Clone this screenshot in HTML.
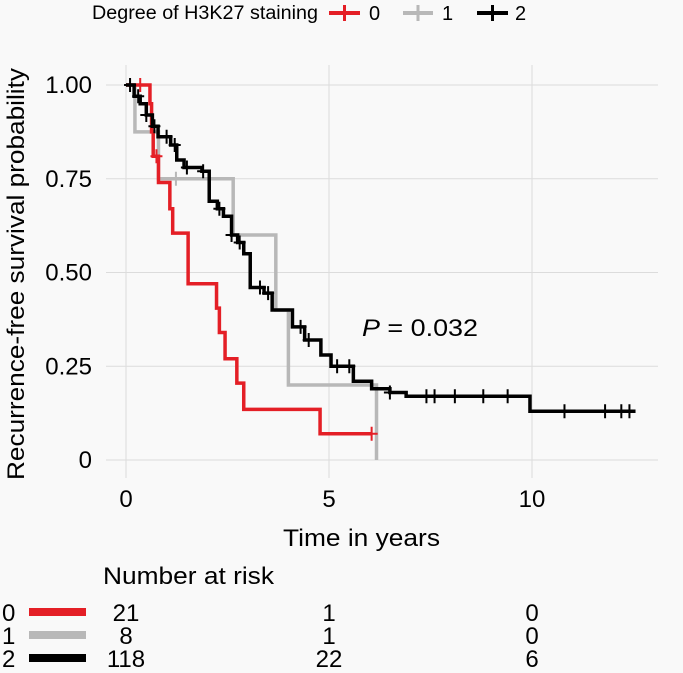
<!DOCTYPE html>
<html><head><meta charset="utf-8"><style>
body{margin:0;background:#f9f9f9;}
svg{display:block;font-family:"Liberation Sans",sans-serif;}
</style></head><body>
<svg id="c" width="683" height="673" viewBox="0 0 683 673">
<rect width="683" height="673" fill="#f9f9f9"/>
<g id="grid"></g>
<g id="curves"></g>
<g id="axes"></g>
<g>
<text x="92" y="19" font-size="19" textLength="226" lengthAdjust="spacingAndGlyphs">Degree of H3K27 staining</text>
<g><line x1="329" y1="13" x2="360" y2="13" stroke="#e41f26" stroke-width="4"/><line x1="344.5" y1="5" x2="344.5" y2="21" stroke="#e41f26" stroke-width="3"/><text x="369" y="20" font-size="20">0</text></g>
<g><line x1="403" y1="13" x2="433" y2="13" stroke="#b8b8b8" stroke-width="4"/><line x1="418" y1="5" x2="418" y2="21" stroke="#b8b8b8" stroke-width="3"/><text x="442" y="20" font-size="20">1</text></g>
<g><line x1="477" y1="13" x2="508" y2="13" stroke="#000" stroke-width="4"/><line x1="492.5" y1="5" x2="492.5" y2="21" stroke="#000" stroke-width="3"/><text x="515" y="20" font-size="20">2</text></g>
</g>
<text x="362" y="336" font-size="24" textLength="116" lengthAdjust="spacingAndGlyphs"><tspan font-style="italic">P</tspan> = 0.032</text>
<text x="283" y="546" font-size="24" textLength="157" lengthAdjust="spacingAndGlyphs">Time in years</text>
<text transform="translate(24,480) rotate(-90)" font-size="24" textLength="412" lengthAdjust="spacingAndGlyphs">Recurrence-free survival probability</text>
<text x="103" y="584" font-size="24" textLength="171" lengthAdjust="spacingAndGlyphs">Number at risk</text>
<g id="risk"></g>
</svg>
<script>
const xTicks=[0,5,10];
const yTicks=[0,0.25,0.5,0.75,1];
const yTickLabels=["0","0.25","0.50","0.75","1.00"];
const t0=[0,0.59,0.63,0.67,0.8,1.08,1.15,1.53,2.23,2.3,2.44,2.73,2.9,4.78,6.05];
const s0=[1,0.95,0.875,0.81,0.74,0.67,0.605,0.47,0.405,0.34,0.27,0.205,0.135,0.07,0.07];
const c0=[0.35,0.75,6.05];
const t1=[0,0.22,0.8,2.64,3.69,4.0,6.17,6.17];
const s1=[1,0.875,0.75,0.6,0.4,0.2,0.2,0];
const c1=[1.23];
const t2=[0,0.2,0.35,0.5,0.65,0.79,1.1,1.25,1.43,1.87,2.05,2.25,2.4,2.6,2.75,2.9,3.06,3.4,3.6,3.98,4.1,4.4,4.8,5.05,5.6,6.05,6.5,6.9,9.95,12.55];
const s2=[1,0.97,0.95,0.92,0.89,0.862,0.84,0.8,0.78,0.77,0.69,0.67,0.65,0.6,0.58,0.55,0.46,0.445,0.4,0.4,0.355,0.32,0.28,0.25,0.21,0.19,0.18,0.17,0.13,0.13];
const c2=[0.1,0.3,0.5,0.7,1.0,1.2,1.5,1.9,2.3,2.6,2.8,3.3,3.5,4.3,4.5,5.2,5.5,6.5,7.4,7.6,8.1,8.8,9.4,10.8,11.8,12.2,12.4];
const riskTimes=[0,5,10];
const risk0=[21,1,0], risk1=[8,1,0], risk2=[118,22,6];
const X=t=>126+t*40.6, Y=s=>460-s*375;
const NS="http://www.w3.org/2000/svg";
function mk(tag,attrs,parent){const e=document.createElementNS(NS,tag);for(const k in attrs)e.setAttribute(k,attrs[k]);parent.appendChild(e);return e;}
const grid=document.getElementById('grid'),axes=document.getElementById('axes'),curves=document.getElementById('curves'),risk=document.getElementById('risk');
xTicks.forEach(t=>{const l=mk('line',{x1:X(t),x2:X(t),y1:65,y2:478,stroke:'#dcdcdc','stroke-width':1},grid);


const tx=mk('text',{x:X(t),y:507,'font-size':24,'text-anchor':'middle'},axes);tx.textContent=t;

});
yTicks.forEach((v,i)=>{const l=mk('line',{x1:106,x2:658,y1:Y(v),y2:Y(v),stroke:'#dcdcdc','stroke-width':1},grid);


const tx=mk('text',{x:92,y:Y(v)+8,'font-size':24,'text-anchor':'end'},axes);tx.textContent=yTickLabels[i];

});
function stepAt(ts,ss,t){let v=ss[0];for(let i=0;i<ts.length;i++){if(ts[i]<=t)v=ss[i];}return v;}
function curve(ts,ss,cs,col,name){let d='M'+X(ts[0])+','+Y(ss[0]);for(let i=1;i<ts.length;i++){d+=' H'+X(ts[i])+' V'+Y(ss[i]);}
const p=mk('path',{d:d,fill:'none',stroke:col,'stroke-width':3.5},curves);


cs.forEach(t=>{const y=Y(stepAt(ts,ss,t));const m=mk('path',{d:'M'+(X(t)-6)+','+y+' H'+(X(t)+6)+' M'+X(t)+','+(y-7)+' V'+(y+7),stroke:col,'stroke-width':2},curves);

});}
curve(t1,s1,c1,'#b8b8b8','curve-group-1');
curve(t0,s0,c0,'#e41f26','curve-group-0');
curve(t2,s2,c2,'#000000','curve-group-2');
const rows=[[risk0,'#e41f26','0'],[risk1,'#b8b8b8','1'],[risk2,'#000','2']];
rows.forEach((r,i)=>{const y=621+i*23;
const lb=mk('text',{x:2,y:y,'font-size':24},risk);lb.textContent=r[2];


const ln=mk('line',{x1:29,x2:86,y1:y-9,y2:y-9,stroke:r[1],'stroke-width':8},risk);


r[0].forEach((n,j)=>{const tx=mk('text',{x:X(riskTimes[j]),y:y,'font-size':24,'text-anchor':'middle'},risk);tx.textContent=n;

});});
</script>
</body></html>
